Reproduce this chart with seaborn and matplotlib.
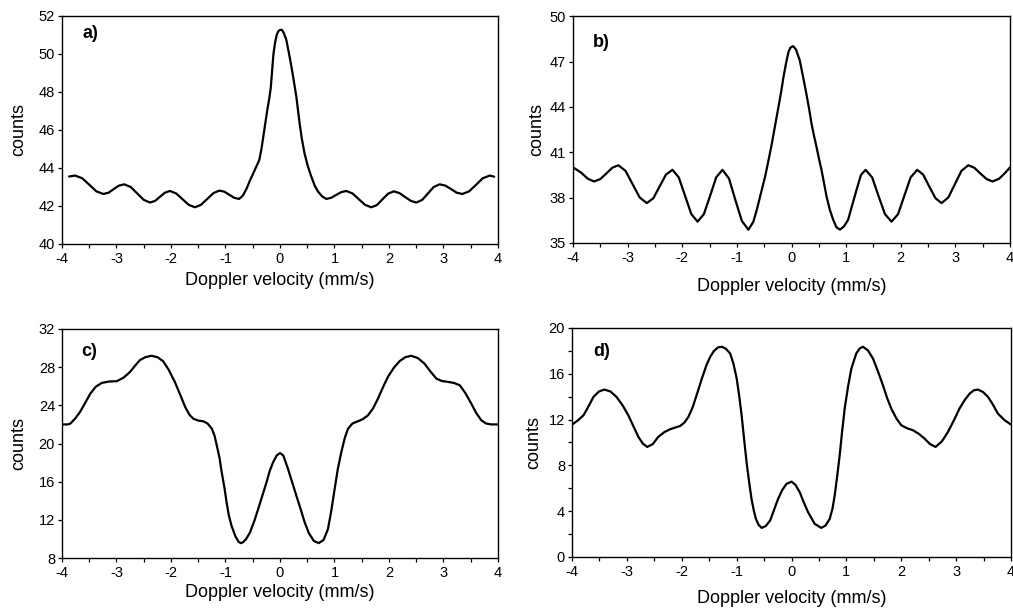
import numpy as np
import pandas as pd
import matplotlib
matplotlib.use("Agg")
import matplotlib.pyplot as plt
from matplotlib.ticker import MultipleLocator
import seaborn as sns

# Panel a) values
vel_a = [-3.87, -3.76, -3.63, -3.50, -3.37, -3.24, -3.145, -3.05, -2.955, -2.86,
         -2.74, -2.62, -2.50, -2.385, -2.29, -2.20, -2.11, -2.02, -1.905, -1.79,
         -1.675, -1.56, -1.45, -1.335, -1.22, -1.11, -1.02, -0.93, -0.84, -0.75,
         -0.68, -0.61, -0.55, -0.49, -0.43, -0.38, -0.34, -0.306, -0.27, -0.233,
         -0.20, -0.17, -0.145, -0.12, -0.09, -0.06, -0.03, 0.0, 0.035, 0.07,
         0.116, 0.16, 0.21, 0.255, 0.30, 0.33, 0.36, 0.40, 0.45, 0.51,
         0.575, 0.64, 0.70, 0.775, 0.85, 0.94, 1.03, 1.125, 1.217, 1.33,
         1.445, 1.56, 1.675, 1.78, 1.88, 1.985, 2.09, 2.19, 2.295, 2.40,
         2.50, 2.61, 2.715, 2.82, 2.93, 3.035, 3.14, 3.24, 3.345, 3.47,
         3.60, 3.72, 3.85, 3.93]
counts_a = [43.55, 43.60, 43.46, 43.12, 42.77, 42.63, 42.70, 42.89, 43.07, 43.14,
            43.00, 42.66, 42.32, 42.18, 42.27, 42.49, 42.70, 42.79, 42.66, 42.36,
            42.06, 41.93, 42.06, 42.37, 42.68, 42.81, 42.75, 42.59, 42.43, 42.37,
            42.55, 42.93, 43.35, 43.72, 44.10, 44.42, 45.00, 45.65, 46.35, 47.05,
            47.60, 48.20, 49.10, 50.00, 50.60, 51.00, 51.20, 51.26, 51.27, 51.10,
            50.74, 50.10, 49.33, 48.55, 47.75, 47.05, 46.35, 45.55, 44.77, 44.10,
            43.54, 43.05, 42.75, 42.50, 42.37, 42.43, 42.58, 42.73, 42.79, 42.66,
            42.36, 42.06, 41.93, 42.05, 42.35, 42.65, 42.77, 42.68, 42.47, 42.27,
            42.18, 42.32, 42.66, 43.00, 43.14, 43.07, 42.89, 42.70, 42.63, 42.77,
            43.12, 43.46, 43.60, 43.54]

# Panel b)
vel_b = [-4.0, -3.85, -3.73, -3.615, -3.50, -3.39, -3.28, -3.17, -3.04, -2.91,
         -2.78, -2.65, -2.53, -2.415, -2.30, -2.18, -2.065, -1.95, -1.835, -1.72,
         -1.605, -1.49, -1.38, -1.265, -1.145, -1.03, -0.91, -0.79, -0.70, -0.636,
         -0.56, -0.484, -0.42, -0.36, -0.30, -0.24, -0.19, -0.148, -0.10, -0.057,
         -0.02, 0.03, 0.08, 0.15, 0.21, 0.27, 0.32, 0.365, 0.41, 0.456,
         0.50, 0.548, 0.595, 0.64, 0.70, 0.762, 0.82, 0.885, 0.96, 1.036,
         1.11, 1.19, 1.27, 1.355, 1.475, 1.59, 1.71, 1.83, 1.95, 2.065,
         2.18, 2.30, 2.41, 2.52, 2.635, 2.745, 2.87, 2.99, 3.11, 3.234,
         3.345, 3.455, 3.57, 3.68, 3.80, 3.90, 4.0]
counts_b = [40.00, 39.65, 39.25, 39.07, 39.23, 39.60, 39.98, 40.14, 39.77, 38.89,
            38.01, 37.64, 37.96, 38.74, 39.52, 39.84, 39.34, 38.13, 36.91, 36.41,
            36.91, 38.13, 39.34, 39.84, 39.26, 37.86, 36.46, 35.88, 36.40, 37.20,
            38.30, 39.40, 40.50, 41.59, 42.80, 44.00, 45.00, 45.98, 46.90, 47.63,
            47.92, 48.02, 47.80, 47.08, 46.00, 44.89, 43.90, 42.91, 42.10, 41.37,
            40.60, 39.84, 38.95, 38.08, 37.20, 36.54, 36.05, 35.88, 36.10, 36.54,
            37.50, 38.52, 39.50, 39.84, 39.34, 38.13, 36.91, 36.41, 36.91, 38.13,
            39.34, 39.84, 39.52, 38.74, 37.96, 37.64, 38.01, 38.89, 39.77, 40.14,
            39.98, 39.60, 39.23, 39.07, 39.25, 39.60, 40.00]

# Panel c)
vel_c = [-3.98, -3.90, -3.85, -3.76, -3.67, -3.58, -3.48, -3.38, -3.27, -3.13,
         -2.995, -2.87, -2.75, -2.66, -2.57, -2.47, -2.36, -2.25, -2.145, -2.04,
         -1.93, -1.83, -1.74, -1.66, -1.59, -1.50, -1.41, -1.33, -1.25, -1.20,
         -1.16, -1.11, -1.07, -1.02, -0.98, -0.94, -0.89, -0.82, -0.76, -0.72,
         -0.68, -0.62, -0.55, -0.47, -0.40, -0.32, -0.247, -0.19, -0.125, -0.06,
         0.0, 0.06, 0.147, 0.22, 0.30, 0.38, 0.453, 0.53, 0.62, 0.71,
         0.80, 0.88, 0.94, 1.003, 1.06, 1.125, 1.19, 1.248, 1.33, 1.43,
         1.52, 1.615, 1.71, 1.798, 1.89, 1.98, 2.09, 2.195, 2.30, 2.41,
         2.53, 2.65, 2.76, 2.87, 2.97, 3.08, 3.19, 3.30, 3.40, 3.51,
         3.60, 3.695, 3.78, 3.876, 4.0]
counts_c = [22.00, 22.00, 22.07, 22.60, 23.30, 24.20, 25.23, 25.95, 26.35, 26.50,
            26.53, 26.90, 27.51, 28.15, 28.74, 29.05, 29.19, 29.05, 28.63, 27.70,
            26.46, 25.10, 23.83, 23.00, 22.60, 22.40, 22.33, 22.10, 21.55, 20.80,
            19.80, 18.50, 17.00, 15.40, 13.84, 12.50, 11.39, 10.30, 9.70, 9.56,
            9.65, 10.00, 10.69, 11.90, 13.14, 14.60, 15.94, 17.10, 18.05, 18.75,
            19.00, 18.75, 17.34, 16.00, 14.54, 13.10, 11.74, 10.60, 9.80, 9.56,
            9.90, 11.03, 12.90, 15.24, 17.30, 19.10, 20.60, 21.55, 22.10, 22.33,
            22.55, 22.96, 23.70, 24.71, 25.90, 26.98, 27.95, 28.63, 29.05, 29.19,
            28.95, 28.38, 27.55, 26.80, 26.55, 26.46, 26.35, 26.10, 25.30, 24.18,
            23.20, 22.43, 22.10, 22.00, 22.00]

# Panel d)
vel_d = [-3.99, -3.90, -3.79, -3.70, -3.61, -3.51, -3.41, -3.30, -3.19, -3.08,
         -2.975, -2.88, -2.79, -2.71, -2.63, -2.53, -2.43, -2.32, -2.215, -2.12,
         -2.03, -1.95, -1.88, -1.80, -1.73, -1.64, -1.55, -1.48, -1.415, -1.34,
         -1.273, -1.20, -1.12, -1.06, -1.0, -0.955, -0.91, -0.865, -0.82, -0.775,
         -0.73, -0.69, -0.65, -0.60, -0.545, -0.47, -0.39, -0.32, -0.245, -0.17,
         -0.09, 0.0, 0.07, 0.148, 0.22, 0.30, 0.42, 0.54, 0.62, 0.695,
         0.745, 0.786, 0.83, 0.877, 0.92, 0.968, 1.03, 1.09, 1.18, 1.24,
         1.30, 1.39, 1.483, 1.575, 1.665, 1.74, 1.817, 1.91, 2.0, 2.10,
         2.21, 2.32, 2.425, 2.525, 2.625, 2.74, 2.85, 2.96, 3.06, 3.155,
         3.245, 3.32, 3.396, 3.49, 3.58, 3.67, 3.76, 3.88, 3.99]
counts_d = [11.59, 11.90, 12.38, 13.15, 13.98, 14.45, 14.62, 14.45, 13.98, 13.25,
            12.38, 11.40, 10.48, 9.90, 9.61, 9.85, 10.48, 10.90, 11.15, 11.30,
            11.44, 11.75, 12.23, 13.10, 14.13, 15.50, 16.76, 17.50, 17.99, 18.30,
            18.36, 18.20, 17.78, 16.90, 15.59, 14.10, 12.38, 10.30, 8.29, 6.60,
            5.08, 4.10, 3.33, 2.80, 2.54, 2.70, 3.19, 4.10, 5.08, 5.85,
            6.39, 6.58, 6.30, 5.67, 4.80, 3.92, 2.90, 2.54, 2.75, 3.33,
            4.20, 5.37, 7.00, 8.88, 10.90, 12.96, 14.90, 16.46, 17.78, 18.20,
            18.36, 18.05, 17.34, 16.20, 15.00, 13.90, 12.96, 12.10, 11.50, 11.25,
            11.07, 10.75, 10.33, 9.85, 9.61, 10.10, 10.92, 11.95, 12.96, 13.70,
            14.27, 14.55, 14.62, 14.40, 13.98, 13.30, 12.52, 11.95, 11.59]

panel_tags = ["a)", "b)", "c)", "d)"]
x_ticks = [-4, -3, -2, -1, 0, 1, 2, 3, 4]

sns.set_style("ticks")
plt.rcParams["font.family"] = ["Liberation Sans", "DejaVu Sans"]
plt.rcParams["axes.unicode_minus"] = False
for key in ["text.color", "axes.labelcolor", "xtick.color", "ytick.color",
            "xtick.labelcolor", "ytick.labelcolor"]:
    plt.rcParams[key] = "black"

fig = plt.figure(figsize=(10.13, 6.13), dpi=100)

panels = [
    # x, y, rect, ylim, ystep, yminor, tag pos, xlabelpad, ylabelpad
    (vel_a, counts_a, [0.0612, 0.602, 0.4304, 0.372], (40, 52), 2, None, (0.046, 0.925), 4, 8),
    (vel_b, counts_b, [0.5657, 0.6036, 0.4314, 0.370], (35, 50), 3, None, (0.046, 0.885), 9, 3.5),
    (vel_c, counts_c, [0.0612, 0.0897, 0.4304, 0.3736], (8, 32), 4, None, (0.045, 0.90), 2.5, 8),
    (vel_d, counts_d, [0.5647, 0.0914, 0.4334, 0.3736], (0, 20), 4, 2, (0.048, 0.897), 8, 5),
]

for (xv, yv, rect, ylim, ystep, yminor, tagpos, xpad, ypad), tag in zip(panels, panel_tags):
    ax = fig.add_axes(rect)
    df = pd.DataFrame({"velocity": xv, "counts": yv})
    sns.lineplot(data=df, x="velocity", y="counts", ax=ax, color="black",
                 linewidth=1.6, errorbar=None)
    ax.set_xlim(-4, 4)
    ax.set_ylim(*ylim)
    ax.set_xticks(x_ticks)
    ax.xaxis.set_minor_locator(MultipleLocator(0.5))
    ax.set_yticks(np.arange(ylim[0], ylim[1] + 0.1, ystep))
    if yminor:
        ax.yaxis.set_minor_locator(MultipleLocator(yminor))
    ax.tick_params(axis="both", which="both", direction="out", length=3, width=0.9,
                   color="black", labelsize=10.5)
    ax.tick_params(axis="x", pad=3)
    ax.tick_params(axis="y", pad=2)
    for s in ax.spines.values():
        s.set_visible(True)
        s.set_linewidth(1.0)
        s.set_color("black")
    ax.set_xlabel("Doppler velocity (mm/s)", fontsize=13, labelpad=xpad)
    ax.set_ylabel("counts", fontsize=13, labelpad=ypad)
    ax.text(tagpos[0], tagpos[1], tag, transform=ax.transAxes, fontsize=13,
            fontweight="bold", ha="left", va="center")

fig.savefig("out.png", dpi=100)
